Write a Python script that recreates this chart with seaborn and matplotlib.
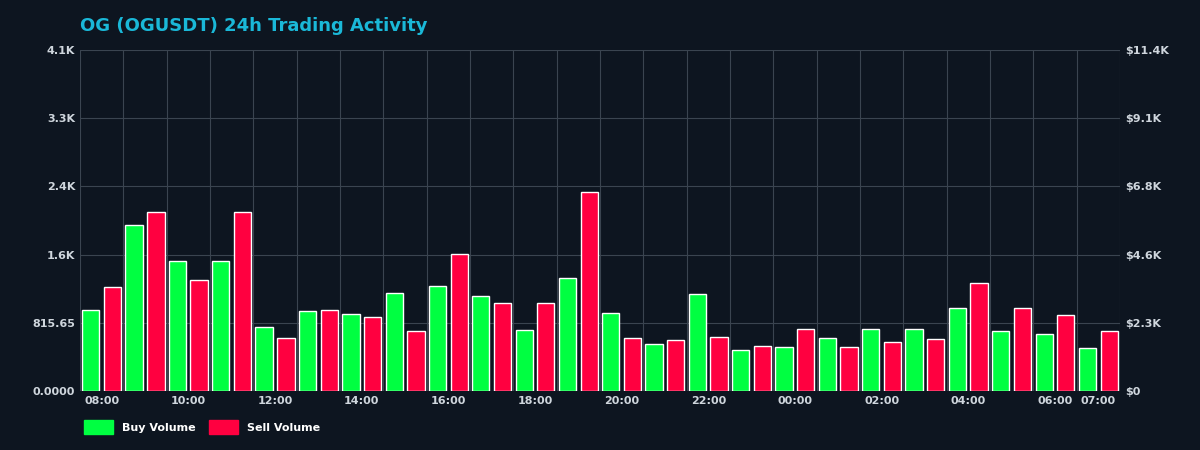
import matplotlib
matplotlib.use("Agg")
import matplotlib.pyplot as plt
import seaborn as sns
import pandas as pd
import numpy as np

hours = ["08:00","09:00","10:00","11:00","12:00","13:00","14:00","15:00","16:00","17:00","18:00","19:00",
         "20:00","21:00","22:00","23:00","00:00","01:00","02:00","03:00","04:00","05:00","06:00","07:00"]
buy = [974,1983,1551,1551,769,962,925,1178,1250,1142,733,1346,938,565,1166,493,529,637,745,745,998,721,685,517]
sell = [1238,2140,1322,2140,637,974,889,721,1635,1058,1058,2380,637,613,649,541,745,529,589,625,1286,998,914,721]
left_ticks = [0, 815.65, 1631.3, 2446.95, 3262.6, 4078.25]
left_labels = ["0.0000","815.65","1.6K","2.4K","3.3K","4.1K"]
right_labels = ["$0","$2.3K","$4.6K","$6.8K","$9.1K","$11.4K"]

bg = "#0d1520"
df = pd.DataFrame({"hour": hours*2, "vol": buy+sell,
                   "type": ["Buy Volume"]*24 + ["Sell Volume"]*24})

sns.set_style("dark")
fig = plt.figure(figsize=(12, 4.5), dpi=100, facecolor=bg)
ax = fig.add_axes([80/1200, 59/450, 1040/1200, 341/450])
ax.set_facecolor(bg)
sns.barplot(data=df, x="hour", y="vol", hue="type", order=hours,
            palette={"Buy Volume": "#00ff41", "Sell Volume": "#ff0040"},
            width=1.0, gap=0.2, ax=ax, legend=False, saturation=1)
ax.set_xlim(-0.5, 23.5)
ax.set_ylim(0, 4078.25)
ax.set_yticks(left_ticks, left_labels)
tpos = list(range(0, 23, 2)) + [23]
ax.set_xticks(tpos, [hours[i] for i in tpos])
ax.set_xticks(np.arange(-0.5, 24, 1), minor=True)
ax.grid(False)
ax.grid(True, which="minor", axis="x", color="#3a4450", lw=0.8)
ax.grid(True, which="major", axis="y", color="#3a4450", lw=0.8)
ax.set_axisbelow(True)
ax.tick_params(which="both", length=0, colors="#cfd6dd", labelsize=8)
for lab in ax.get_xticklabels() + ax.get_yticklabels():
    lab.set_fontweight("bold")
ax.set_xlabel(""); ax.set_ylabel("")
for s in ax.spines.values():
    s.set_visible(False)

ax2 = ax.twinx()
ax2.set_ylim(0, 11400)
ax2.set_yticks(np.linspace(0, 11400, 6), right_labels)
ax2.tick_params(length=0, colors="#cfd6dd", labelsize=8)
for lab in ax2.get_yticklabels():
    lab.set_fontweight("bold")
for s in ax2.spines.values():
    s.set_visible(False)
ax2.grid(False)

fig.text(80/1200, 1-26/450, "OG (OGUSDT) 24h Trading Activity", color="#1ab8d8",
         fontsize=13, fontweight="bold", va="center")
from matplotlib.patches import Patch
fig.legend(handles=[Patch(color="#00ff41", label="Buy Volume"), Patch(color="#ff0040", label="Sell Volume")],
           loc="center left", bbox_to_anchor=(74/1200, 1-427/450), ncol=2, frameon=False,
           labelcolor="white", prop={"weight": "bold", "size": 8}, handlelength=2.6, handleheight=1.6,
           columnspacing=1.2)
fig.savefig("out.png", facecolor=bg)
